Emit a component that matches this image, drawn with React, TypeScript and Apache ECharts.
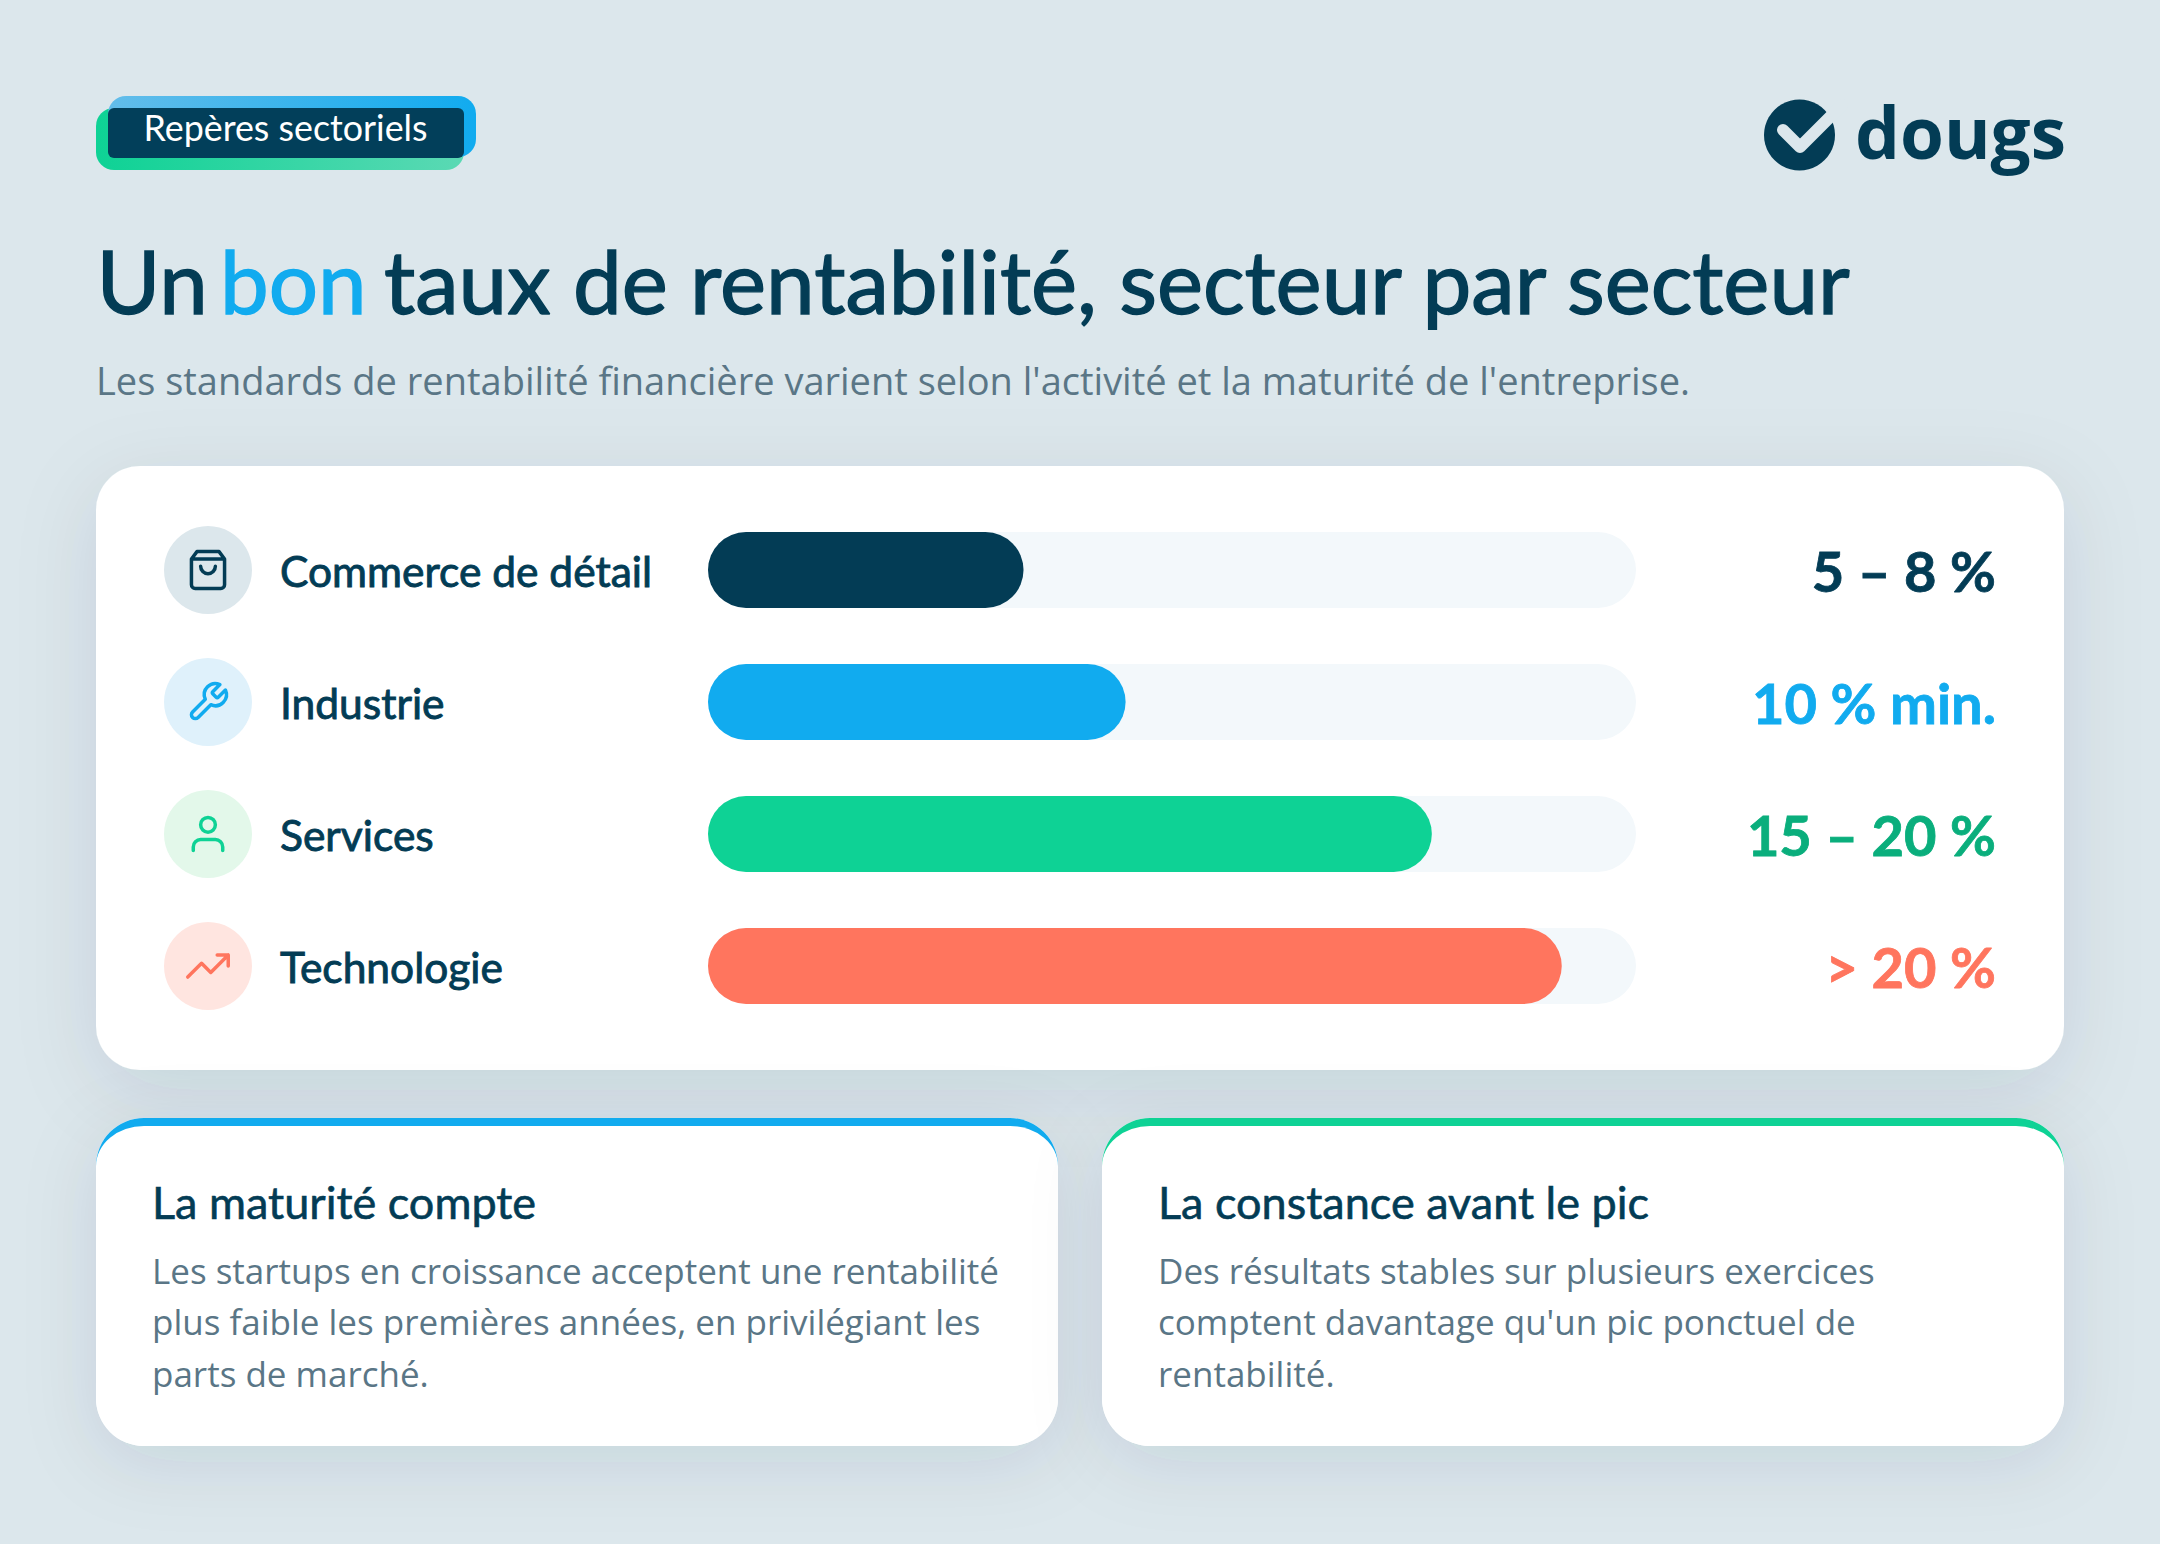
import React, { useEffect, useRef } from "react";
import * as echarts from "echarts";

const categories = ["Commerce de détail", "Industrie", "Services", "Technologie"];
const barValues = [34, 45, 78, 92];
const rangeLabels = ["5 – 8 %", "10 % min.", "15 – 20 %", "> 20 %"];
const barColors = ["#033C55", "#11ABEF", "#0ED295", "#FF755E"];
const rangeColors = ["#033C55", "#11ABEF", "#0AAE7C", "#FF755E"];
const iconFills = ["#DCE7EC", "#DFF1FB", "#E3F8EA", "#FFE5E0"];
const iconStrokes = ["#033C55", "#11ABEF", "#0ED295", "#FF755E"];
const iconShapes = ["iconBag", "iconWrench", "iconUser", "iconTrend"];
const trackValue = 100;

const NAVY = "#033C55";
const GREY = "#5A7686";
const BG = "#DCE7EC";
const HEAD_FONT = "Lato";
const BODY_FONT = "'Open Sans'";

echarts.graphic.registerShape(
  "iconBag",
  echarts.graphic.extendPath("M6 2 3 6v14a2 2 0 0 0 2 2h14a2 2 0 0 0 2-2V6l-3-4Z M3 6h18 M16 10a4 4 0 0 1-8 0", {})
);
echarts.graphic.registerShape(
  "iconWrench",
  echarts.graphic.extendPath(
    "M14.7 6.3a1 1 0 0 0 0 1.4l1.6 1.6a1 1 0 0 0 1.4 0l3.77-3.77a6 6 0 0 1-7.94 7.94l-6.91 6.91a2.12 2.12 0 0 1-3-3l6.91-6.91a6 6 0 0 1 7.94-7.94l-3.76 3.76z",
    {}
  )
);
echarts.graphic.registerShape(
  "iconUser",
  echarts.graphic.extendPath("M20 21v-2a4 4 0 0 0-4-4H8a4 4 0 0 0-4 4v2 M8 7a4 4 0 1 0 8 0a4 4 0 1 0-8 0", {})
);
echarts.graphic.registerShape(
  "iconTrend",
  echarts.graphic.extendPath("M23 6 13.5 15.5 8.5 10.5 1 18 M17 6h6v6", {})
);
// white face of a bottom card: its top corners are elliptical, like a css border-top
echarts.graphic.registerShape(
  "cardFace",
  echarts.graphic.extendPath(
    "M0 48A48 40 0 0 1 48 8H914A48 40 0 0 1 962 48V280A48 48 0 0 1 914 328H48A48 48 0 0 1 0 280Z",
    {}
  )
);

const text = (t, x, y, fontSize, fill, fontFamily = HEAD_FONT, fontWeight: any = 400, bold = 0) => ({
  type: "text",
  x,
  y,
  style: {
    text: t,
    fontSize,
    fill,
    fontFamily,
    fontWeight,
    align: "left",
    verticalAlign: "middle",
    stroke: bold ? fill : undefined,
    lineWidth: bold,
  },
});

const hGrad = (from, to) =>
  new echarts.graphic.LinearGradient(0, 0, 1, 0, [
    { offset: 0, color: from },
    { offset: 1, color: to },
  ]);

const bottomCard = (x, accent, title, lines) => [
  {
    type: "rect",
    shape: { x, y: 1118, width: 962, height: 328, r: 48 },
    style: { fill: "#FFFFFF", shadowBlur: 72, shadowOffsetY: 16, shadowColor: "rgba(3,60,85,0.10)" },
  },
  {
    type: "rect",
    shape: { x, y: 1118, width: 962, height: 48, r: [48, 48, 0, 0] },
    style: { fill: accent },
  },
  { type: "cardFace", x, y: 1118, style: { fill: "#FFFFFF" } },
  text(title, x + 56, 1201.5, 45, NAVY, HEAD_FONT, 400, 0.6),
  ...lines.map((l, i) => text(l, x + 56, 1270 + i * 51.6, 35, GREY, BODY_FONT)),
];

const App = () => {
  const chartRef = useRef<HTMLDivElement>(null);

  useEffect(() => {
    document.body.style.margin = "0";
    const chart = echarts.init(chartRef.current, null, { renderer: "svg" });

    const iconScale = 1.84;
    const icons = categories.flatMap((_, i) => {
      const cy = 570 + i * 132;
      return [
        { type: "circle", shape: { cx: 208, cy, r: 44 }, style: { fill: iconFills[i] } },
        {
          type: iconShapes[i],
          x: 208 - 12 * iconScale,
          y: cy - 12 * iconScale,
          scaleX: iconScale,
          scaleY: iconScale,
          style: { fill: "none", stroke: iconStrokes[i], lineWidth: 1.9, lineCap: "round", lineJoin: "round" },
        },
      ];
    });

    const option = {
      animation: false,
      backgroundColor: BG,
      grid: { left: 708, top: 504, width: 928, height: 528, containLabel: false, outerBoundsMode: "none" },
      xAxis: { type: "value", min: 0, max: 100, show: false },
      yAxis: [
        {
          type: "category",
          inverse: true,
          data: categories,
          axisLine: { show: false },
          axisTick: { show: false },
          axisLabel: {
            margin: 428,
            align: "left",
            fontFamily: HEAD_FONT,
            fontSize: 42.5,
            fontWeight: 400,
            color: NAVY,
            textBorderColor: NAVY,
            textBorderWidth: 0.9,
            padding: [2, 0, 0, 0],
          },
        },
        {
          type: "category",
          inverse: true,
          position: "right",
          data: rangeLabels.map((value, i) => ({
            value,
            textStyle: {
              align: "right",
              color: rangeColors[i],
              textBorderColor: rangeColors[i],
              textBorderWidth: 0.8,
            },
          })),
          axisLine: { show: false },
          axisTick: { show: false },
          axisLabel: {
            margin: 360,
            align: "right",
            fontFamily: HEAD_FONT,
            fontSize: 56,
            fontWeight: 700,
            padding: [1, 0, 0, 0],
          },
        },
      ],
      series: [
        {
          type: "bar",
          silent: true,
          barWidth: 76,
          barGap: "-100%",
          data: categories.map(() => trackValue),
          itemStyle: { color: "#F3F8FB", borderRadius: 38 },
        },
        {
          type: "bar",
          barWidth: 76,
          barGap: "-100%",
          data: barValues.map((value, i) => ({ value, itemStyle: { color: barColors[i] } })),
          itemStyle: { borderRadius: 38 },
        },
      ],
      graphic: {
        elements: [
          // badge
          {
            type: "rect",
            shape: { x: 96, y: 108, width: 368, height: 62, r: 18 },
            style: { fill: hGrad("#0ED295", "#5BD9B4") },
          },
          {
            type: "rect",
            shape: { x: 108, y: 96, width: 368, height: 61, r: 18 },
            style: { fill: hGrad("#63BDEA", "#11ABEF") },
          },
          {
            type: "rect",
            shape: { x: 108, y: 108, width: 356, height: 50, r: 6 },
            style: { fill: "#023F5A" },
          },
          text("Repères sectoriels", 143.5, 127.5, 35.8, "#FFFFFF"),
          // logo
          { type: "circle", shape: { cx: 1799.5, cy: 135, r: 35.5 }, style: { fill: NAVY } },
          {
            type: "polyline",
            shape: { points: [[1783, 130], [1800, 147], [1842, 105]] },
            style: { fill: "none", stroke: BG, lineWidth: 12, lineJoin: "round", lineCap: "round" },
          },
          text("dougs", 1855, 131.5, 71, NAVY, BODY_FONT, 700),
          // title
          text("Un", 96.5, 280.5, 87, NAVY, HEAD_FONT, 400, 1.4),
          text("bon", 220, 280.5, 87, "#11ABEF", HEAD_FONT, 400, 1.4),
          text("taux de rentabilité, secteur par secteur", 384, 280.5, 87.2, NAVY, HEAD_FONT, 400, 1.4),
          text(
            "Les standards de rentabilité financière varient selon l'activité et la maturité de l'entreprise.",
            96,
            380,
            38,
            GREY,
            BODY_FONT
          ),
          // main card
          {
            type: "rect",
            shape: { x: 96, y: 466, width: 1968, height: 604, r: 44 },
            style: { fill: "#FFFFFF", shadowBlur: 80, shadowOffsetY: 20, shadowColor: "rgba(3,60,85,0.10)" },
          },
          ...icons,
          ...bottomCard(96, "#11ABEF", "La maturité compte", [
            "Les startups en croissance acceptent une rentabilité",
            "plus faible les premières années, en privilégiant les",
            "parts de marché.",
          ]),
          ...bottomCard(1102, "#0ED295", "La constance avant le pic", [
            "Des résultats stables sur plusieurs exercices",
            "comptent davantage qu'un pic ponctuel de",
            "rentabilité.",
          ]),
        ],
      },
    };

    chart.setOption(option);
    return () => chart.dispose();
  }, []);

  return <div ref={chartRef} style={{ width: 2160, height: 1544 }} />;
};

export default App;
